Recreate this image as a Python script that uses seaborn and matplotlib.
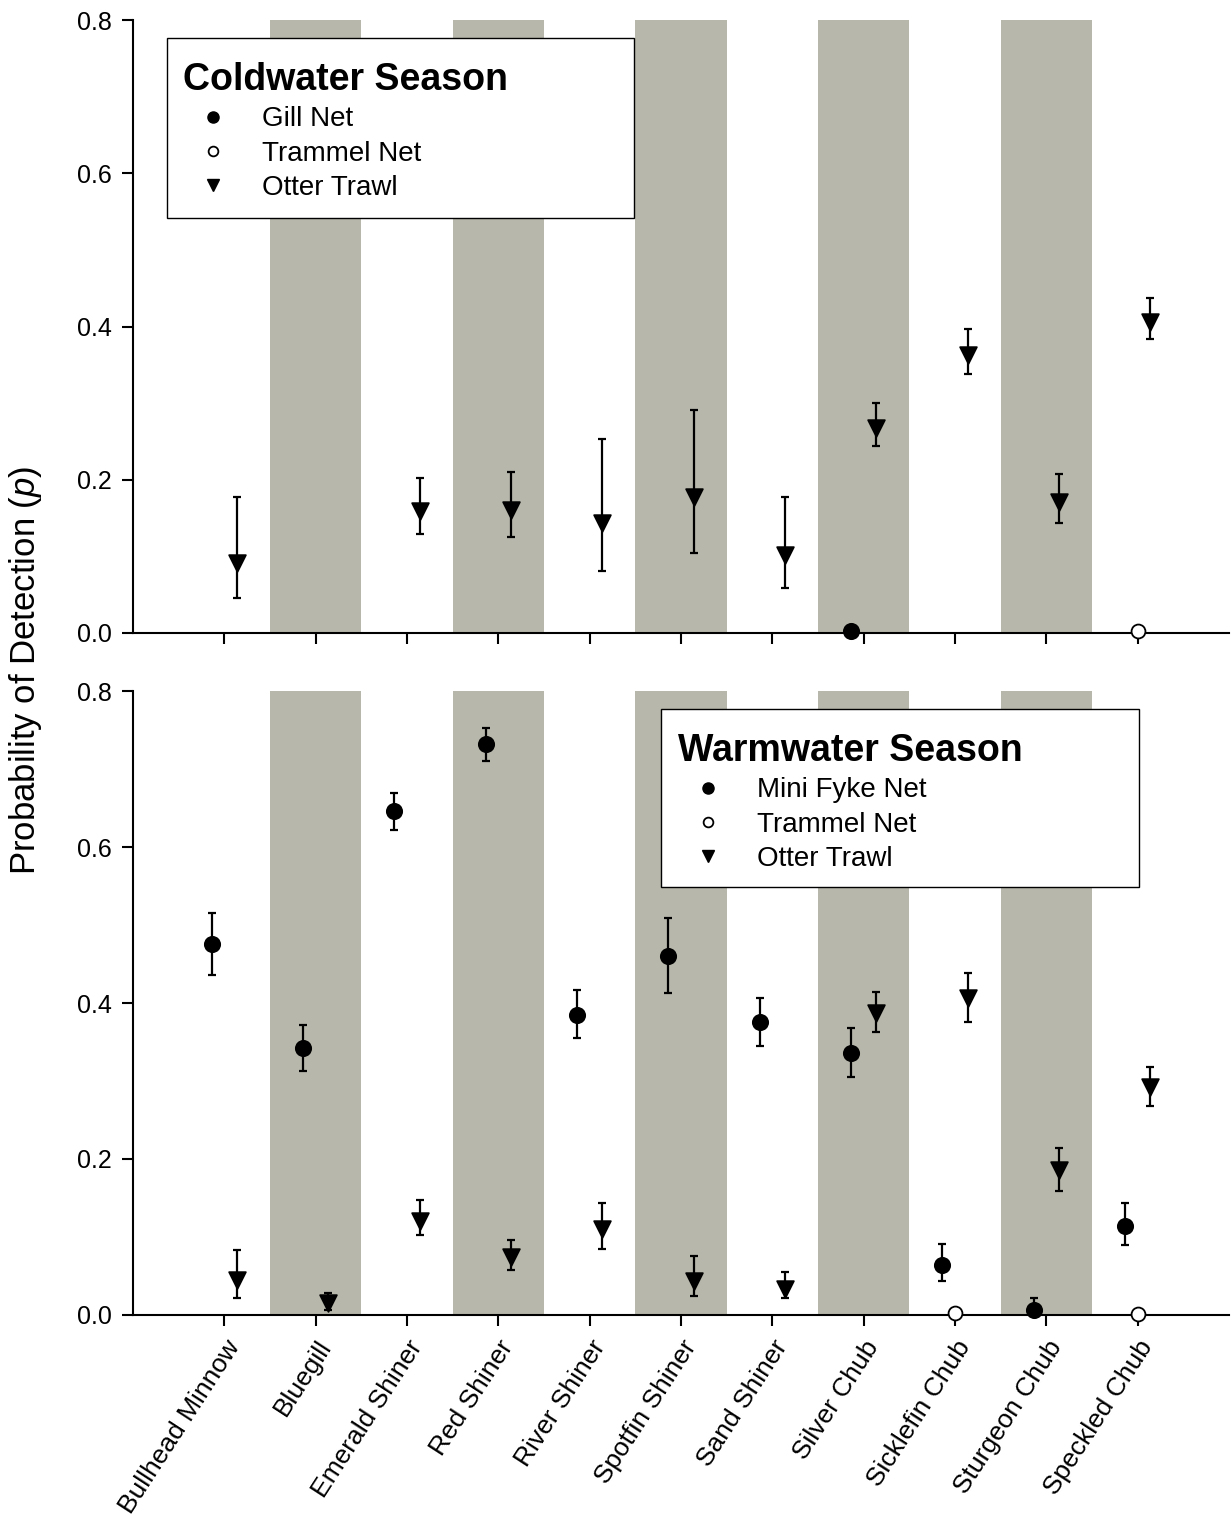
import numpy as np
import pandas as pd
import matplotlib
matplotlib.use("Agg")
import matplotlib.pyplot as plt
import seaborn as sns
from matplotlib.lines import Line2D
from matplotlib.patches import Rectangle

species = ["Bullhead Minnow", "Bluegill", "Emerald Shiner", "Red Shiner", "River Shiner",
           "Spotfin Shiner", "Sand Shiner", "Silver Chub", "Sicklefin Chub", "Sturgeon Chub",
           "Speckled Chub"]

# Coldwater season
cold_gill = [np.nan, np.nan, np.nan, np.nan, np.nan, np.nan, np.nan, 0.002, np.nan, np.nan, np.nan]
cold_trammel = [np.nan, np.nan, np.nan, np.nan, np.nan, np.nan, np.nan, np.nan, np.nan, np.nan, 0.002]
cold_trawl = [0.091, np.nan, 0.159, 0.161, 0.144, 0.177, 0.102, 0.268, 0.363, 0.171, 0.406]
cold_trawl_lo = [0.046, np.nan, 0.129, 0.125, 0.081, 0.104, 0.059, 0.244, 0.338, 0.144, 0.384]
cold_trawl_hi = [0.177, np.nan, 0.202, 0.210, 0.253, 0.291, 0.177, 0.300, 0.397, 0.207, 0.437]

# Warmwater season
warm_fyke = [0.476, 0.342, 0.646, 0.732, 0.385, 0.460, 0.376, 0.336, 0.064, 0.006, 0.114]
warm_fyke_lo = [0.436, 0.313, 0.622, 0.710, 0.355, 0.413, 0.345, 0.305, 0.044, 0.000, 0.090]
warm_fyke_hi = [0.515, 0.372, 0.669, 0.753, 0.417, 0.509, 0.406, 0.368, 0.091, 0.022, 0.144]
warm_trammel = [np.nan, np.nan, np.nan, np.nan, np.nan, np.nan, np.nan, np.nan, 0.002, np.nan, 0.001]
warm_trawl = [0.045, 0.015, 0.120, 0.074, 0.110, 0.044, 0.033, 0.387, 0.406, 0.186, 0.292]
warm_trawl_lo = [0.022, 0.006, 0.103, 0.058, 0.085, 0.024, 0.022, 0.363, 0.376, 0.159, 0.268]
warm_trawl_hi = [0.083, 0.028, 0.147, 0.096, 0.144, 0.076, 0.055, 0.414, 0.438, 0.214, 0.318]

yticks = [0.0, 0.2, 0.4, 0.6, 0.8]

sns.set_theme(style="ticks")
plt.rcParams["font.family"] = ["Liberation Sans", "DejaVu Sans"]
plt.rcParams["mathtext.fontset"] = "custom"
plt.rcParams["mathtext.it"] = "Liberation Sans:italic"
plt.rcParams["mathtext.rm"] = "Liberation Sans"
for k in ["text.color", "axes.labelcolor", "xtick.color", "ytick.color", "axes.edgecolor"]:
    plt.rcParams[k] = "black"

W, H = 1231, 1530
fig = plt.figure(figsize=(W / 100, H / 100), dpi=100)

def fax(l, t, r, b):
    return fig.add_axes([l / W, 1 - b / H, (r - l) / W, (b - t) / H])

ax1 = fax(133, 20, 1229, 633)
ax2 = fax(133, 691, 1229, 1315)

band = "#b7b7ab"
xpos = np.arange(len(species))
off = 0.14

def draw_series(ax, x, y, lo=None, hi=None, marker="o", face="black", size=11):
    y = np.asarray(y, float)
    m = ~np.isnan(y)
    if lo is not None:
        lo = np.asarray(lo, float); hi = np.asarray(hi, float)
        ax.errorbar(x[m], y[m], yerr=[y[m] - lo[m], hi[m] - y[m]], fmt="none",
                    ecolor="black", elinewidth=1.6, capsize=3, capthick=1.6, zorder=4)
    df = pd.DataFrame({"x": x[m], "y": y[m]})
    sns.scatterplot(data=df, x="x", y="y", ax=ax, marker=marker, s=size ** 2,
                    color=face, edgecolor="black", linewidth=1.3, zorder=5, clip_on=False)

def style_axis(ax, show_labels):
    for i in range(1, len(species), 2):
        ax.axvspan(i - 0.5, i + 0.5, color=band, lw=0, zorder=0)
    ax.set_xlim(-1, 11)
    ax.set_ylim(0, 0.8)
    ax.set_yticks(yticks)
    ax.set_yticklabels([f"{v:.1f}" for v in yticks], fontsize=18)
    ax.set_xticks(xpos)
    if show_labels:
        ax.set_xticklabels(species, rotation=57, ha="right", rotation_mode="anchor", fontsize=19)
    else:
        ax.set_xticklabels([])
    ax.set_xlabel("")
    ax.set_ylabel("")
    for s in ["top", "right"]:
        ax.spines[s].set_visible(False)
    for s in ["left", "bottom"]:
        ax.spines[s].set_linewidth(1.5)
        ax.spines[s].set_color("black")
    ax.tick_params(axis="both", direction="out", length=8, width=1.5, color="black",
                   labelcolor="black", pad=7)
    ax.set_facecolor("white")

# Top panel
draw_series(ax1, xpos - off, cold_gill, marker="o", face="black")
draw_series(ax1, xpos.astype(float), cold_trammel, marker="o", face="white", size=10)
draw_series(ax1, xpos + off, cold_trawl, cold_trawl_lo, cold_trawl_hi, marker="v", face="black", size=12)
style_axis(ax1, False)

# Bottom panel
draw_series(ax2, xpos - off, warm_fyke, warm_fyke_lo, warm_fyke_hi, marker="o", face="black")
draw_series(ax2, xpos.astype(float), warm_trammel, marker="o", face="white", size=10)
draw_series(ax2, xpos + off, warm_trawl, warm_trawl_lo, warm_trawl_hi, marker="v", face="black", size=12)
style_axis(ax2, True)

def make_legend(ax, title, first, box, inner):
    handles = [
        Line2D([], [], ls="none", marker="o", mfc="black", mec="black", ms=8),
        Line2D([], [], ls="none", marker="o", mfc="white", mec="black", ms=7, mew=1.3),
        Line2D([], [], ls="none", marker="v", mfc="black", mec="black", ms=8),
    ]
    l, t, r, b = box
    fig.patches.append(Rectangle((l / W, 1 - b / H), (r - l) / W, (b - t) / H,
                                 transform=fig.transFigure, facecolor="white",
                                 edgecolor="black", linewidth=1.0, zorder=8))
    il, it = inner
    leg = fig.legend(handles, [first, "Trammel Net", "Otter Trawl"], title=title,
                     loc="upper left", bbox_to_anchor=(il / W, 1 - it / H),
                     bbox_transform=fig.transFigure,
                     fontsize=20, title_fontproperties={"weight": "bold", "size": 27},
                     alignment="left", frameon=False, borderpad=0, labelspacing=0.3,
                     handlelength=2.15, handletextpad=0.68, borderaxespad=0)
    leg.set_zorder(10)
    return leg

make_legend(ax1, "Coldwater Season", "Gill Net", (167, 38, 634, 218), (183, 62))
make_legend(ax2, "Warmwater Season", "Mini Fyke Net", (661, 709, 1139, 887), (678, 733))

fig.text(26 / W, 1 - 670 / H, "Probability of Detection ($p$)", rotation=90,
         ha="center", va="center", fontsize=25)

fig.savefig("out.png", dpi=100, facecolor="white")
